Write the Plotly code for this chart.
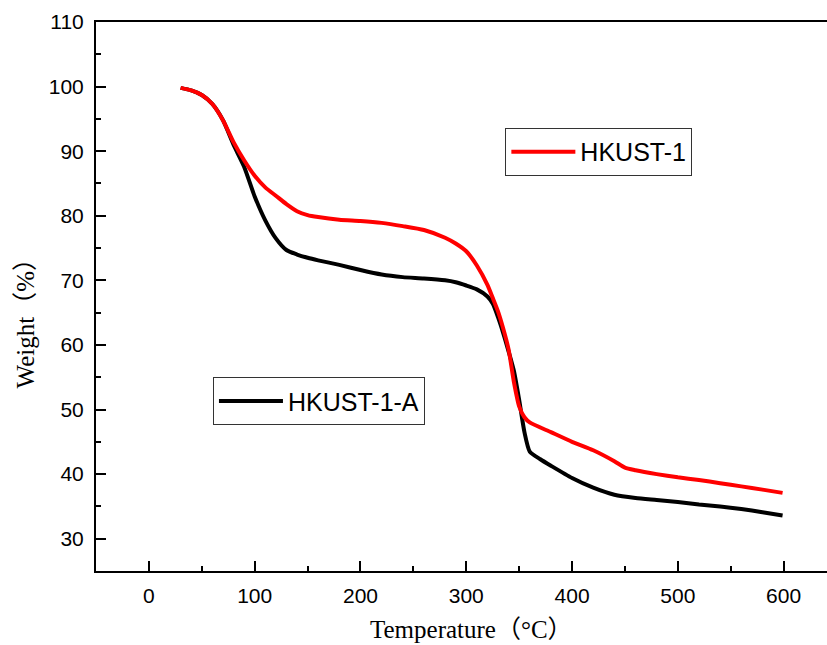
import plotly.graph_objects as go

# Thermogravimetric curves (weight % vs temperature)
temp_hkust = [30, 40, 50, 60, 70, 80, 90, 100, 110, 120, 130, 140, 150, 160, 180,
              200, 220, 240, 260, 280, 290, 300, 310, 320, 325, 330, 335, 340, 345,
              350, 355, 360, 380, 400, 420, 440, 450, 460, 480, 500, 520, 540, 560,
              580, 599]
weight_hkust = [99.8, 99.4, 98.7, 97.3, 94.8, 91.4, 88.6, 86.2, 84.4, 83.1, 81.8, 80.7,
                80.1, 79.8, 79.4, 79.2, 78.9, 78.4, 77.8, 76.6, 75.7, 74.5, 72.3, 69.3,
                67.3, 65.2, 62.5, 59.3, 54.3, 50.5, 48.8, 48.0, 46.5, 45.0, 43.7, 42.0,
                41.0, 40.6, 40.0, 39.5, 39.1, 38.6, 38.1, 37.6, 37.1]

temp_hkust_a = [30, 40, 50, 60, 70, 80, 90, 100, 110, 120, 130, 140, 150, 160, 180,
                200, 220, 240, 260, 280, 290, 300, 310, 320, 325, 330, 335, 340, 345,
                350, 355, 360, 370, 380, 400, 420, 440, 460, 480, 500, 520, 540, 560,
                580, 599]
weight_hkust_a = [99.8, 99.4, 98.7, 97.3, 94.8, 91.0, 87.6, 83.0, 79.3, 76.5, 74.7, 74.0,
                  73.5, 73.1, 72.4, 71.6, 70.9, 70.5, 70.3, 70.0, 69.7, 69.2, 68.6, 67.5,
                  66.4, 64.3, 61.8, 59.0, 56.0, 51.5, 46.5, 43.5, 42.3, 41.3, 39.4, 37.9,
                  36.8, 36.3, 36.0, 35.7, 35.3, 35.0, 34.6, 34.1, 33.6]

series_names = ["HKUST-1", "HKUST-1-A"]
x_title = "Temperature（°C）"
y_title = "Weight（%）"

tick_font = dict(family="Liberation Sans, Arial, sans-serif", size=21, color="black")
title_font = dict(family="Liberation Serif, Times New Roman, Noto Sans CJK SC, serif",
                  size=25, color="black")

fig = go.Figure()
fig.add_trace(go.Scatter(
    x=temp_hkust_a, y=weight_hkust_a, mode="lines", name=series_names[1],
    line=dict(color="black", width=4, shape="spline", smoothing=0.6),
    legend="legend2",
))
fig.add_trace(go.Scatter(
    x=temp_hkust, y=weight_hkust, mode="lines", name=series_names[0],
    line=dict(color="#ff0000", width=4, shape="spline", smoothing=0.6),
    legend="legend",
))

legend_style = dict(
    bgcolor="white", bordercolor="#333333", borderwidth=1,
    font=dict(family="Liberation Sans, Arial, sans-serif", size=25, color="black"),
    itemwidth=64, xanchor="left", yanchor="top",
)

fig.update_layout(
    width=827, height=645,
    margin=dict(l=96, r=0, t=22, b=74),
    paper_bgcolor="white", plot_bgcolor="white",
    showlegend=True,
    legend=dict(x=0.560, y=0.807, **legend_style),
    legend2=dict(x=0.160, y=0.353, **legend_style),
    xaxis=dict(
        range=[-50, 641], dtick=100, tick0=0,
        showgrid=False, zeroline=False,
        showline=True, linecolor="black", linewidth=2, mirror=True,
        ticks="inside", ticklen=10, tickwidth=2, tickcolor="black",
        minor=dict(ticks="inside", ticklen=5, tickwidth=2, dtick=50, tick0=0, tickcolor="black"),
        tickfont=tick_font, ticklabelstandoff=5,
    ),
    yaxis=dict(
        range=[25, 110], dtick=10, tick0=0,
        showgrid=False, zeroline=False,
        showline=True, linecolor="black", linewidth=2,
        ticks="inside", ticklen=10, tickwidth=2, tickcolor="black",
        minor=dict(ticks="inside", ticklen=5, tickwidth=2, dtick=5, tick0=0, tickcolor="black"),
        tickfont=tick_font, ticklabelstandoff=6,
    ),
    annotations=[
        dict(text=x_title, xref="paper", yref="paper", x=0.514, y=-0.107,
             xanchor="center", yanchor="middle", showarrow=False, font=title_font),
        dict(text=y_title, xref="paper", yref="paper", x=-0.097, y=0.462,
             xanchor="center", yanchor="middle", textangle=-90, showarrow=False,
             font=title_font),
    ],
)

fig.write_html("out.html")
